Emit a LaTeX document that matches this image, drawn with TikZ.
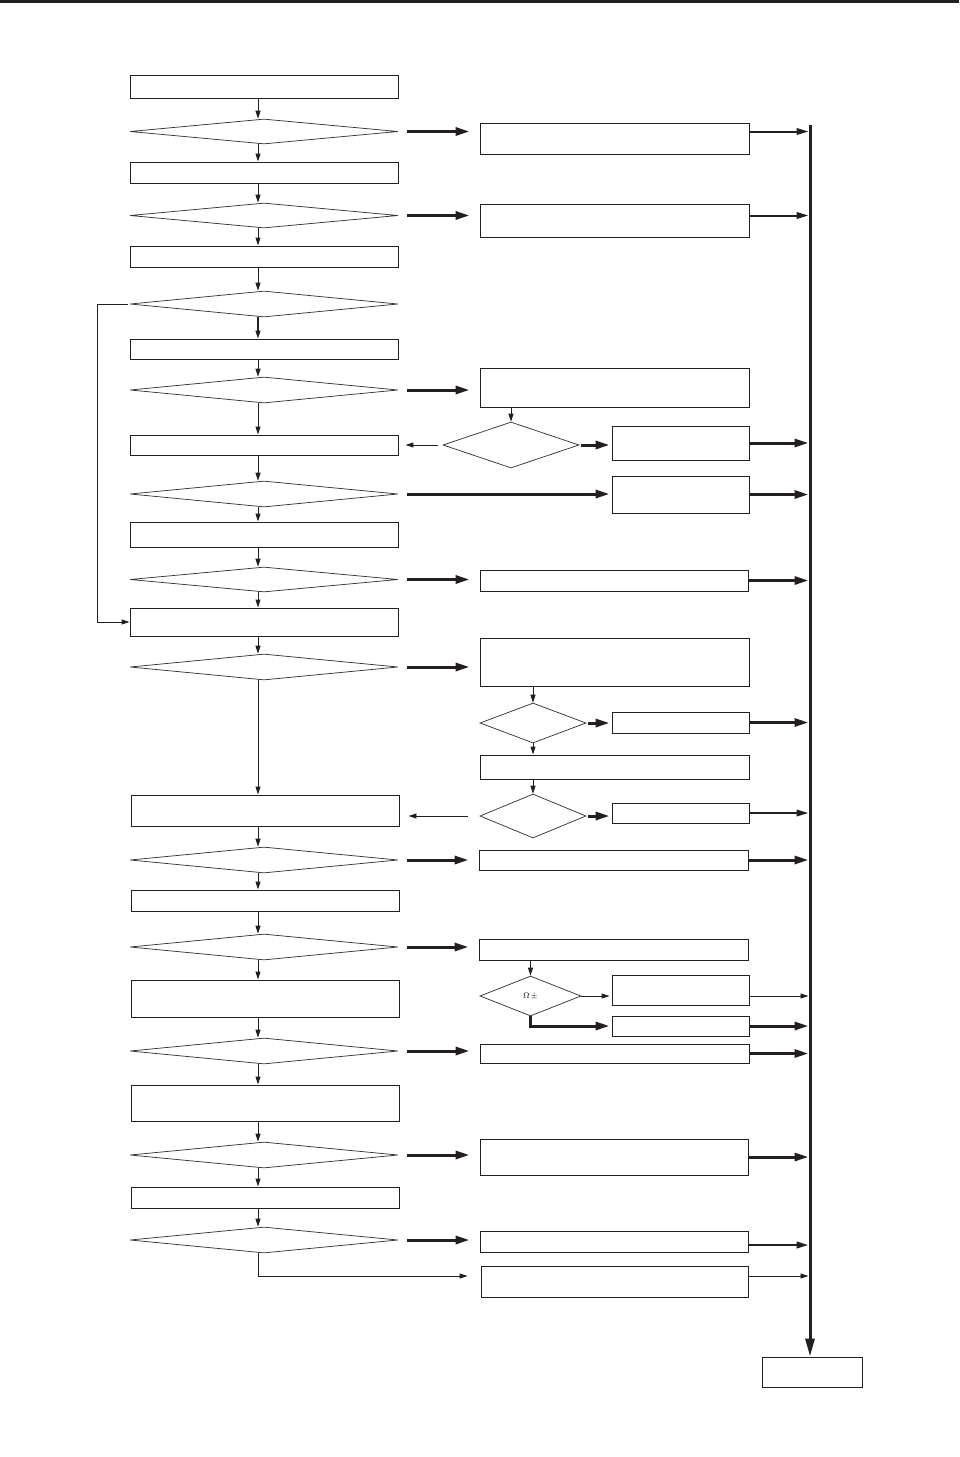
\documentclass[tikz,border=0pt]{standalone}
\usetikzlibrary{arrows.meta,shapes.geometric,calc}
\definecolor{ink}{HTML}{231F20}
\newcommand\mkbox[7][]{\node[#2,minimum width={(#6-#4)*1pt},minimum height={(#7-#5)*1pt}] (#3) at ({(#4+#6)/2},{(#5+#7)/2}) {#1};}
\begin{document}
\begin{tikzpicture}[x=1pt,y=-1pt,
 box/.style={draw=ink,line width=0.9pt,inner sep=0pt,rectangle},
 dia/.style={draw=ink!90,line width=0.75pt,inner sep=0pt,diamond},
 tarr/.style={draw=ink,line width=0.9pt,-{Triangle[length=8pt,width=5pt]}},
 marr/.style={draw=ink,line width=2pt,-{Triangle[length=12pt,width=6.5pt]}},
 karr/.style={draw=ink,line width=3pt,-{Triangle[length=14pt,width=8pt]}},
 busline/.style={draw=ink,line width=3pt,-{Triangle[length=18pt,width=9pt]}},
]
\useasboundingbox (0,0) rectangle (959,1457);
\coordinate (rl) at (0,1.3);
\coordinate (rr) at (959,1.3);
\draw[ink,line width=2.7pt] (rl) -- (rr);
\coordinate (axis) at (258,0);
\coordinate (loopx) at (97,0);
\coordinate (bustop) at (810,125);
% left column
\mkbox{box}{L1}{130}{75}{398}{98}
\mkbox{dia}{L2}{130}{119}{398}{144}
\mkbox{box}{L3}{130}{162}{398}{183}
\mkbox{dia}{L4}{130}{203}{398}{228}
\mkbox{box}{L5}{130}{246}{398}{267}
\mkbox{dia}{L6}{130}{291}{398}{317}
\mkbox{box}{L7}{130}{339}{398}{359}
\mkbox{dia}{L8}{130}{377}{398}{403}
\mkbox{box}{L9}{130}{435}{398}{455}
\mkbox{dia}{L10}{130}{481}{398}{507}
\mkbox{box}{L11}{130}{522}{398}{547}
\mkbox{dia}{L12}{130}{567}{398}{592}
\mkbox{box}{L13}{130}{608}{398}{636}
\mkbox{dia}{L14}{130}{654}{398}{680}
\mkbox{box}{L15}{131}{795}{399}{826}
\mkbox{dia}{L16}{130}{847}{398}{873}
\mkbox{box}{L17}{131}{890}{399}{911}
\mkbox{dia}{L18}{130}{934}{398}{960}
\mkbox{box}{L19}{131}{980}{399}{1017}
\mkbox{dia}{L20}{130}{1038}{398}{1064}
\mkbox{box}{L21}{131}{1085}{399}{1121}
\mkbox{dia}{L22}{130}{1142}{398}{1168}
\mkbox{box}{L23}{131}{1187}{399}{1208}
\mkbox{dia}{L24}{130}{1227}{398}{1253}
% right column
\mkbox{box}{R1}{480}{123}{749}{154}
\mkbox{box}{R2}{480}{204}{749}{237}
\mkbox{box}{R3}{480}{368}{749}{407}
\mkbox{dia}{S1}{443}{422}{579}{468}
\mkbox{box}{R4}{612}{426}{749}{460}
\mkbox{box}{R5}{612}{476}{749}{513}
\mkbox{box}{R5b}{480}{570}{748}{591}
\mkbox{box}{R6}{480}{638}{749}{686}
\mkbox{dia}{S2}{480}{703}{586}{743}
\mkbox{box}{R7}{612}{712}{749}{733}
\mkbox{box}{R8}{480}{755}{749}{779}
\mkbox{dia}{S3}{480}{794}{586}{838}
\mkbox{box}{R9}{612}{803}{749}{823}
\mkbox{box}{R10}{479}{850}{748}{870}
\mkbox{box}{R11}{479}{939}{748}{960}
\mkbox[{\fontsize{8}{8}\selectfont$\Omega\,\pm$}]{dia}{S4}{480}{976}{581}{1016}
\mkbox{box}{R12}{612}{975}{749}{1005}
\mkbox{box}{R13}{612}{1016}{749}{1036}
\mkbox{box}{R14}{480}{1044}{749}{1063}
\mkbox{box}{R15}{480}{1139}{748}{1175}
\mkbox{box}{R16}{480}{1231}{748}{1252}
\mkbox{box}{R17}{481}{1266}{748}{1297}
\mkbox{box}{END}{762}{1357}{862}{1387}
% left vertical arrows
\foreach \a/\b in {L1/L2,L2/L3,L3/L4,L4/L5,L5/L6,L7/L8,L8/L9,L9/L10,L10/L11,L11/L12,L12/L13,L13/L14,L14/L15,L15/L16,L16/L17,L17/L18,L18/L19,L19/L20,L20/L21,L21/L22,L22/L23,L23/L24}
  \draw[tarr] (\a.south -| axis) -- (\b.north -| axis);
\draw[tarr,line width=1.5pt] (L6.south -| axis) -- (L7.north -| axis);
% loop
\draw[tarr,shorten <=2pt] (L6.west) -- (L6.west -| loopx) |- (L13.west);
% thick arrows to the right
\foreach \a/\b in {L2/R1,L4/R2,L8/R3,L12/R5b,L14/R6,L16/R10,L18/R11,L20/R14,L22/R15,L24/R16}
  \draw[karr,shorten <=9pt,shorten >=10pt] (\a.east) -- (\a.east -| \b.west);
\draw[karr,shorten <=9pt,shorten >=2pt] (L10.east) -- (L10.east -| R5.west);
\draw[tarr,shorten >=13pt] (L24.south -| axis) |- ([yshift=5.5pt]R17.west);
% small verticals on the right
\draw[tarr] (R3.south -| S1.north) -- (S1.north);
\draw[tarr] (R6.south -| S2.north) -- (S2.north);
\draw[tarr] (S2.south) -- (S2.south |- R8.north);
\draw[tarr] (R8.south -| S3.north) -- (S3.north);
\draw[tarr] (R11.south -| S4.north) -- (S4.north);
% diamond side outputs
\draw[tarr,shorten <=5pt,shorten >=7pt] (S1.west) -- (S1.west -| L9.east);
\draw[tarr,shorten <=12pt,shorten >=9pt] (S3.west) -- (S3.west -| L15.east);
\draw[karr,shorten <=2pt,shorten >=2pt] (S1.east) -- (S1.east -| R4.west);
\draw[karr,shorten <=2pt,shorten >=2pt] (S2.east) -- (S2.east -| R7.west);
\draw[karr,shorten <=2pt,shorten >=2pt] (S3.east) -- (S3.east -| R9.west);
\draw[tarr,shorten >=2pt] (S4.east) -- (S4.east -| R12.west);
\draw[karr,shorten >=2pt] (S4.south) |- (R13.west);
% bus
\draw[busline] (bustop) -- (END.north -| bustop);
\draw[marr,shorten >=1.5pt] (R1.east |- L2.east) -- (L2.east -| bustop);
\draw[marr,shorten >=1.5pt] (R2.east |- L4.east) -- (L4.east -| bustop);
\foreach \b in {R4,R5,R5b,R7,R10,R13,R14,R15}
  \draw[karr,shorten >=1.5pt] (\b.east) -- (\b.east -| bustop);
\draw[marr,shorten >=1.5pt] (R9.east) -- (R9.east -| bustop);
\draw[marr,line width=2.4pt,shorten >=1.5pt] ([yshift=-3.5pt]R16.east) -- ([yshift=-3.5pt]R16.east -| bustop);
\draw[tarr,shorten >=1.5pt] (R12.east |- S4.east) -- (S4.east -| bustop);
\draw[tarr,shorten >=1.5pt] ([yshift=5.5pt]R17.east) -- ([yshift=5.5pt]R17.east -| bustop);
\end{tikzpicture}
\end{document}
